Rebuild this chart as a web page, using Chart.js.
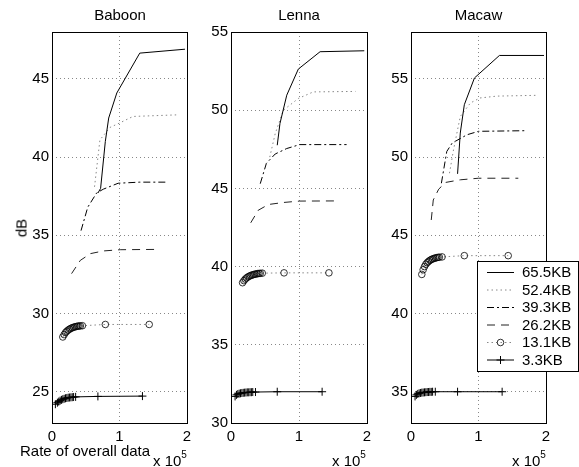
<!DOCTYPE html>
<html>
<head>
<meta charset="utf-8">
<script src="https://cdn.jsdelivr.net/npm/chart.js@4.4.0/dist/chart.umd.min.js"></script>
<style>
body { margin: 0; background: #fff; }
#wrap { position: relative; width: 579px; height: 467px; font-family: "Liberation Sans", Arial, sans-serif; font-size: 15px; color: #000; overflow: hidden; }
canvas { position: absolute; top: 0; }
.lbl { position: absolute; white-space: nowrap; line-height: 1; }
.ttl { position: absolute; top: 7px; white-space: nowrap; line-height: 1; transform: translateX(-50%); }
.lbl sup { font-size: 10px; position: relative; top: -3px; vertical-align: top; }
</style>
</head>
<body>
<div id="wrap">
  <canvas id="baboon" width="200" height="467" style="left:0"></canvas>
  <canvas id="lenna" width="185" height="467" style="left:195px"></canvas>
  <canvas id="macaw" width="199" height="467" style="left:380px"></canvas>
  <div class="ttl" style="left:120px">Baboon</div>
  <div class="ttl" style="left:299px">Lenna</div>
  <div class="ttl" style="left:478.5px">Macaw</div>
  <div class="lbl" style="left:21px;top:228px;transform:translate(-50%,-50%) rotate(-90deg)">dB</div>
  <div class="lbl" style="left:20px;top:443px">Rate of overall data</div>
  <div class="lbl" style="left:153px;top:453px">x 10<sup>5</sup></div>
  <div class="lbl" style="left:332px;top:453px">x 10<sup>5</sup></div>
  <div class="lbl" style="left:512px;top:453px">x 10<sup>5</sup></div>
</div>
<script>
// legend labels, same order in every panel
const sizes = ['65.5KB', '52.4KB', '39.3KB', '26.2KB', '13.1KB', '3.3KB'];
const xTicks = [0, 1, 2];

// Baboon, [rate (x 10^5), dB]
const bab655 = [[0.68,37.7],[0.72,38.0],[0.79,41.0],[0.84,42.5],[0.96,44.1],[1.30,46.65],[1.97,46.9]];
const bab524 = [[0.63,38.1],[0.71,41.1],[0.86,41.9],[1.01,42.2],[1.20,42.6],[1.84,42.7]];
const bab393 = [[0.43,35.3],[0.53,36.8],[0.66,37.7],[0.76,37.95],[0.98,38.33],[1.30,38.4],[1.72,38.4]];
const bab262 = [[0.29,32.55],[0.42,33.4],[0.57,33.83],[0.76,34.0],[1.01,34.08],[1.57,34.1]];
const bab131 = [[0.16,28.5],[0.18,28.65],[0.20,28.78],[0.22,28.87],[0.24,28.94],[0.26,29.0],[0.28,29.05],[0.30,29.09],[0.32,29.12],[0.34,29.15],[0.36,29.17],[0.38,29.19],[0.40,29.2],[0.42,29.21],[0.45,29.22],[0.79,29.3],[1.44,29.3]];
const bab33 = [[0.05,24.2],[0.08,24.3],[0.10,24.37],[0.12,24.43],[0.14,24.48],[0.16,24.52],[0.18,24.55],[0.20,24.58],[0.22,24.6],[0.24,24.62],[0.26,24.63],[0.28,24.64],[0.30,24.65],[0.32,24.66],[0.35,24.67],[0.68,24.7],[1.34,24.72]];
const babTicks = [25, 30, 35, 40, 45];

// Lenna
const len655 = [[0.68,47.76],[0.72,49.15],[0.82,50.96],[0.99,52.63],[1.31,53.74],[1.96,53.8]];
const len524 = [[0.57,47.0],[0.65,48.5],[0.77,50.0],[0.99,50.75],[1.21,51.17],[1.83,51.2]];
const len393 = [[0.43,45.3],[0.52,46.6],[0.65,47.2],[0.82,47.55],[1.01,47.8],[1.70,47.8]];
const len262 = [[0.29,42.8],[0.40,43.6],[0.55,43.97],[0.77,44.1],[1.01,44.19],[1.57,44.2]];
const len131 = [[0.17,38.97],[0.19,39.1],[0.21,39.2],[0.23,39.28],[0.25,39.34],[0.27,39.39],[0.29,39.43],[0.31,39.46],[0.33,39.49],[0.35,39.51],[0.37,39.53],[0.39,39.55],[0.41,39.56],[0.43,39.57],[0.46,39.58],[0.78,39.6],[1.44,39.6]];
const len33 = [[0.06,31.7],[0.08,31.8],[0.10,31.85],[0.12,31.88],[0.14,31.9],[0.16,31.92],[0.18,31.93],[0.20,31.94],[0.22,31.95],[0.24,31.96],[0.26,31.96],[0.28,31.97],[0.30,31.97],[0.32,31.98],[0.36,31.98],[0.68,32.0],[1.34,32.0]];
const lenTicks = [30, 35, 40, 45, 50, 55];

// Macaw
const mac655 = [[0.69,48.93],[0.73,51.54],[0.79,53.35],[0.94,55.06],[1.31,56.5],[1.97,56.5]];
const mac524 = [[0.57,48.97],[0.63,50.47],[0.73,52.6],[0.88,53.46],[1.02,53.78],[1.27,53.9],[1.85,53.95]];
const mac393 = [[0.45,48.33],[0.53,50.36],[0.61,50.9],[0.83,51.43],[1.0,51.65],[1.71,51.69]];
const mac262 = [[0.30,45.98],[0.33,47.26],[0.41,47.95],[0.51,48.38],[0.73,48.55],[1.0,48.65],[1.59,48.65]];
const mac131 = [[0.16,42.5],[0.18,42.8],[0.20,43.0],[0.22,43.15],[0.24,43.25],[0.26,43.33],[0.28,43.4],[0.30,43.45],[0.32,43.49],[0.34,43.52],[0.36,43.55],[0.38,43.57],[0.40,43.59],[0.42,43.6],[0.46,43.62],[0.79,43.7],[1.44,43.7]];
const mac33 = [[0.06,34.7],[0.08,34.8],[0.10,34.86],[0.12,34.9],[0.14,34.92],[0.16,34.94],[0.18,34.95],[0.20,34.96],[0.22,34.97],[0.24,34.98],[0.26,34.98],[0.28,34.99],[0.30,34.99],[0.32,35.0],[0.36,35.0],[0.69,35.0],[1.35,35.0]];
const macTicks = [35, 40, 45, 50, 55];

const FONT = { family: '"Liberation Sans", Arial, sans-serif', size: 15 };

// line look of each size
const looks = [
    { borderColor: '#000', borderDash: [], pointRadius: 0 },
    { borderColor: '#888', borderDash: [1.5, 3], pointRadius: 0 },
    { borderColor: '#000', borderDash: [7, 3, 2, 3], pointRadius: 0 },
    { borderColor: '#222', borderDash: [8, 6], pointRadius: 0 },
    { borderColor: '#888', borderDash: [1.5, 3], pointRadius: 3.3, pointStyle: 'circle', pointBorderColor: '#000', pointBackgroundColor: 'rgba(0,0,0,0)', pointBorderWidth: 0.8 },
    { borderColor: '#000', borderDash: [], pointRadius: 4, pointStyle: 'cross', pointBorderColor: '#000', pointBorderWidth: 1 }
];

function toSets(series) {
    return series.map((pts, i) => Object.assign({
        label: sizes[i],
        data: pts.map(p => ({ x: p[0], y: p[1] })),
        borderWidth: 1,
        tension: 0,
        fill: false
    }, looks[i]));
}

// frame round the plot area
const frame = {
    id: 'frame',
    afterDatasetsDraw(chart) {
        const a = chart.chartArea, ctx = chart.ctx;
        ctx.save();
        ctx.strokeStyle = '#000';
        ctx.lineWidth = 1;
        ctx.setLineDash([]);
        ctx.strokeRect(Math.round(a.left) + 0.5, Math.round(a.top) + 0.5, Math.round(a.right - a.left), Math.round(a.bottom - a.top));
        ctx.restore();
    }
};

// boxed legend drawn on the last panel
const boxLegend = {
    id: 'boxLegend',
    afterDraw(chart) {
        if (!chart.options.plugins.boxLegend.show) return;
        const ctx = chart.ctx;
        const x0 = 97.5, y0 = 261.5, w = 101, h = 110;
        ctx.save();
        ctx.fillStyle = '#fff';
        ctx.fillRect(x0, y0, w, h);
        ctx.strokeStyle = '#000';
        ctx.lineWidth = 1;
        ctx.strokeRect(x0, y0, w, h);
        chart.data.datasets.forEach((ds, i) => {
            const y = 272.5 + i * 17.5;
            ctx.setLineDash(ds.borderDash);
            ctx.strokeStyle = ds.borderColor;
            ctx.lineWidth = ds.borderWidth;
            ctx.beginPath();
            ctx.moveTo(107, y);
            ctx.lineTo(134, y);
            ctx.stroke();
            ctx.setLineDash([]);
            if (ds.pointRadius > 0) {
                ctx.strokeStyle = ds.pointBorderColor;
                ctx.fillStyle = 'rgba(0,0,0,0)';
                ctx.lineWidth = ds.pointBorderWidth;
                Chart.helpers.drawPoint(ctx, { pointStyle: ds.pointStyle, radius: ds.pointRadius, borderWidth: ds.pointBorderWidth, rotation: 0 }, 120.5, y);
            }
            ctx.fillStyle = '#000';
            ctx.font = '15px "Liberation Sans", Arial, sans-serif';
            ctx.textBaseline = 'middle';
            ctx.fillText(ds.label, 142, y + 0.5);
        });
        ctx.restore();
    }
};

function panel(id, series, yTicks, yMin, yMax, yWidth, padRight, withLegend) {
    return new Chart(document.getElementById(id), {
        type: 'line',
        data: { datasets: toSets(series) },
        plugins: [frame, boxLegend],
        options: {
            responsive: false,
            animation: false,
            events: [],
            layout: { padding: { top: 32, left: 0, bottom: 0, right: padRight } },
            plugins: {
                legend: { display: false },
                tooltip: { enabled: false },
                boxLegend: { show: withLegend },
                title: { display: false }
            },
            scales: {
                x: {
                    type: 'linear',
                    min: 0, max: 2,
                    afterBuildTicks: s => { s.ticks = xTicks.map(v => ({ value: v })); },
                    afterFit: s => { s.height = 44; },
                    ticks: { color: '#000', font: FONT, padding: 5, maxRotation: 0 },
                    grid: { color: '#888', drawTicks: false, lineWidth: 1 },
                    border: { display: false, dash: [1, 3] }
                },
                y: {
                    type: 'linear',
                    min: yMin, max: yMax,
                    afterBuildTicks: s => { s.ticks = yTicks.map(v => ({ value: v })); },
                    afterFit: s => { s.width = yWidth; },
                    ticks: { color: '#000', font: FONT, padding: 3 },
                    grid: { color: '#888', drawTicks: false, lineWidth: 1 },
                    border: { display: false, dash: [1, 3] }
                }
            }
        }
    });
}

panel('baboon', [bab655, bab524, bab393, bab262, bab131, bab33], babTicks, 23, 48, 52, 13, false);
panel('lenna', [len655, len524, len393, len262, len131, len33], lenTicks, 30, 55, 36, 13, false);
panel('macaw', [mac655, mac524, mac393, mac262, mac131, mac33], macTicks, 33, 58, 31, 33, true);
</script>
</body>
</html>
